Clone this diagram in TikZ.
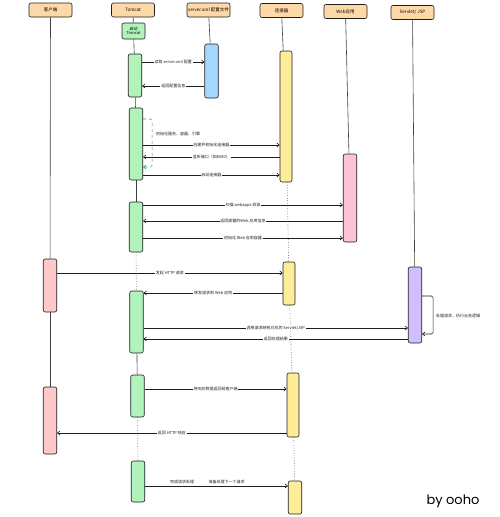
\documentclass[tikz,border=0pt]{standalone}
\usepackage{fontspec}
\setmainfont{Noto Sans CJK SC}
\newfontfamily\signfont{Poppins}
\usetikzlibrary{arrows.meta}
\definecolor{ink}{HTML}{1E1E1E}
\definecolor{peach}{HTML}{FFD8A8}
\definecolor{mint}{HTML}{B2F2BB}
\definecolor{sky}{HTML}{A5D8FF}
\definecolor{lemon}{HTML}{FFEC99}
\definecolor{rose}{HTML}{FCC2D7}
\definecolor{salmon}{HTML}{FFC9C9}
\definecolor{lilac}{HTML}{D0BFFF}
\definecolor{leaf}{HTML}{2F9E44}
\begin{document}
\begin{tikzpicture}[x=1pt, y=-1pt, line width=0.6pt,
    >={Straight Barb[length=2.5pt,width=4pt]},
    head/.style={draw=ink, fill=peach, rounded corners=2pt, minimum width=43pt,
        minimum height=14pt, inner sep=1pt, font=\fontsize{4.5}{5.5}\selectfont},
    act/.style={draw=ink, rounded corners=2pt, minimum width=13.5pt, inner sep=0pt},
    life/.style={draw=ink!85},
    msg/.style={->, draw=ink},
    lbl/.style={fill=white, inner sep=0.8pt, text=ink, font=\fontsize{4}{5}\selectfont}]
\useasboundingbox (0,0) rectangle (500,517);

\node[head] (H1) at (50.5,10) {客户端};
\node[head] (H2) at (133,10) {Tomcat};
\node[head] (H3) at (208.5,10) {server.xml 配置文件};
\node[head] (H4) at (281.5,10.5) {连接器};
\node[head] (H5) at (345.5,11.5) {Web应用};
\node[head] (H6) at (412.5,12.5) {Servlet/ JSP};

\node[act, fill=mint, minimum width=23pt, minimum height=16pt, align=center,
    font=\fontsize{4}{4.5}\selectfont] (T0) at (133.5,31) {启动\\Tomcat};
\node[act, fill=mint, minimum height=43pt] (T1) at (135,75.5) {};
\node[act, fill=mint, minimum height=72pt] (T2) at (136,144) {};
\node[act, fill=mint, minimum height=50pt] (T3) at (136,227) {};
\node[act, fill=mint, minimum height=62pt] (T4) at (136.5,322) {};
\node[act, fill=mint, minimum height=42pt] (T5) at (137.5,396) {};
\node[act, fill=mint, minimum height=41pt] (T6) at (138,481.5) {};
\node[act, fill=sky, minimum height=54pt] (S1) at (211.5,71) {};
\node[act, fill=lemon, minimum width=12pt, minimum height=131pt] (C1) at (286,116.5) {};
\node[act, fill=lemon, minimum width=12pt, minimum height=43pt] (C2) at (289,283.5) {};
\node[act, fill=lemon, minimum width=12pt, minimum height=64pt] (C3) at (293,405) {};
\node[act, fill=lemon, minimum height=33pt] (C4) at (295,497.5) {};
\node[act, fill=rose, minimum height=88pt] (W1) at (350,198) {};
\node[act, fill=lilac, minimum height=76pt] (P1) at (415,305) {};
\node[act, fill=salmon, minimum height=53pt] (K1) at (50,285.5) {};
\node[act, fill=salmon, minimum height=67pt] (K2) at (50,420.5) {};

% lifelines
\path[life]
    (H1) edge (K1) (K1) edge (K2)
    (H2) edge (T0) (T0) edge (T1) (T1) edge (T2) (T2) edge (T3)
    (T3) edge[dotted] (T4) (T4) edge (T5) (T5) edge[dotted] (T6)
    (H3) edge (S1)
    (H4) edge (C1) (C1) edge[dotted] (C2) (C2) edge[dotted] (C3) (C3) edge[dotted] (C4)
    (H5) edge (W1)
    (H6) edge (P1);

\coordinate (r1) at (0,62);
\coordinate (r2) at (0,86);
\coordinate (r3) at (0,119);
\coordinate (r4) at (0,145);
\coordinate (r5) at (0,157);
\coordinate (r6) at (0,175);
\coordinate (r7) at (0,205);
\coordinate (r8) at (0,221);
\coordinate (r9) at (0,238);
\coordinate (r10) at (0,273);
\coordinate (r11) at (0,293);
\coordinate (r12) at (0,328);
\coordinate (r13) at (0,296);
\coordinate (r14) at (0,339);
\coordinate (r15) at (0,389);
\coordinate (r16) at (0,433);
\coordinate (r17) at (0,486);

\path[every node/.style={lbl}]
    (T1.east|-r1) edge[msg] node {读取 server.xml 配置} (S1.west|-r1)
    (S1.west|-r2) edge[msg] node {返回配置信息} (T1.east|-r2)
    (T2.east|-r4) edge[msg] node {创建并初始化连接器} (C1.west|-r4)
    (C1.west|-r5) edge[msg] node {监听端口（如8080）} (T2.east|-r5)
    (T2.east|-r6) edge[msg] node {启动连接器} (C1.west|-r6)
    (T3.east|-r7) edge[msg] node {扫描 webapps 目录} (W1.west|-r7)
    (W1.west|-r8) edge[msg] node {返回部署的Web 应用信息} (T3.east|-r8)
    (T3.east|-r9) edge[msg] node {初始化 Web 应用容器} (W1.west|-r9)
    (K1.east|-r10) edge[msg] node {发起 HTTP 请求} (C2.west|-r10)
    (C2.west|-r11) edge[msg] node {转发请求到 Web 应用} (T4.east|-r11)
    (T4.east|-r12) edge[msg] node {调用请求映射对应的 Servlet/JSP} (P1.west|-r12)
    (P1.west|-r14) edge[msg] node {返回处理结果} (T4.east|-r14)
    (T5.east|-r15) edge[msg] node {将响应数据返回给客户端} (C3.west|-r15)
    (C3.west|-r16) edge[msg] node {返回 HTTP 响应} (K2.east|-r16)
    (T6.east|-r17) edge[msg] node[pos=0.26, above=1pt, fill=none] {完成请求处理}
        node[pos=0.57, above=1pt, fill=none] {准备处理下一个请求} (C4.west|-r17);

% self calls
\draw[->, leaf, dashed, rounded corners=1.5pt] (T2.east|-r3) -- ++(9,0) |- ([yshift=-23pt]T2.east);
\node[lbl, fill=none, anchor=west] (L1) at (155,134) {初始化服务、容器、引擎};
\draw[msg, rounded corners=1.5pt] (P1.east|-r13) -- ++(11,0) |- ([yshift=-29pt]P1.east);
\node[lbl, fill=none, anchor=west] (L2) at (435,316) {处理请求，执行业务逻辑};

\node[font=\signfont\fontsize{13}{14}\selectfont] (sign) at (453,501) {by ooho};
\end{tikzpicture}
\end{document}
